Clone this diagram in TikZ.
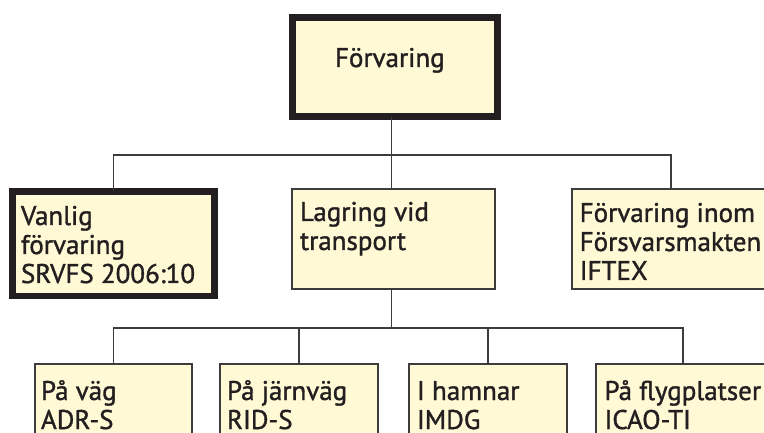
\documentclass[tikz,border=0pt]{standalone}
\usepackage{fontspec}
\newfontfamily\cellfont{PT Sans}[FakeBold=1.3]
\usetikzlibrary{calc}

\definecolor{cellfill}{HTML}{FFF9D6}
\definecolor{ink}{HTML}{231F20}
\definecolor{wire}{HTML}{3C3C3C}

% Fixed-size text area: #1 width, #2 height, #3 drop to first baseline, #4 lines
\newcommand\cellbox[4]{%
  \parbox[t][#2][t]{#1}{\raggedright\lineskiplimit=-100pt\lineskip=0pt
    \rule{0pt}{#3}#4}}

\tikzset{
  cell/.style={draw=wire, line width=1.3pt, fill=cellfill, text=ink,
    anchor=north west, inner ysep=0pt, outer sep=0pt,
    font=\cellfont\fontsize{27}{29}\selectfont},
  keycell/.style={cell, draw=ink, line width=6.5pt},
  wire/.style={draw=wire, line width=1.3pt},
}

\begin{document}
\begin{tikzpicture}[x=1pt, y=-1pt]
  \useasboundingbox (0,0) rectangle (764,433);
  \clip (0,0) rectangle (764,433);

  % top level
  \node[keycell, inner xsep=42.7pt] (top) at (292.3,17.3)
    {\cellbox{120pt}{99.4pt}{49.7pt}{Förvaring}};

  % second level
  \node[keycell, inner xsep=8.7pt] (left) at (12.3,191.5)
    {\cellbox{185pt}{104.5pt}{33.5pt}{Vanlig\\förvaring\\SRVFS 2006:10}};
  \node[cell, inner xsep=8pt] (mid) at (292,189)
    {\cellbox{187pt}{100pt}{32pt}{Lagring vid\\transport}};
  \node[cell, inner xsep=7.7pt] (right) at (572,189)
    {\cellbox{182.6pt}{100pt}{33pt}{Förvaring inom\\Försvarsmakten\\IFTEX}};

  % third level
  \node[cell, inner xsep=6pt] (b1) at (35,364)
    {\cellbox{145pt}{106pt}{36pt}{På väg\\ADR-S}};
  \node[cell, inner xsep=7pt] (b2) at (220,364)
    {\cellbox{144pt}{106pt}{36pt}{På järnväg\\RID-S}};
  \node[cell, inner xsep=8pt] (b3) at (409,364)
    {\cellbox{142pt}{106pt}{36pt}{I hamnar\\IMDG}};
  \node[cell, inner xsep=8.5pt] (b4) at (596,364)
    {\cellbox{157pt}{106pt}{36pt}{På flygplatser\\ICAO-TI}};

  % connector buses
  \coordinate (busA) at (391.5,155);
  \coordinate (busB) at (391.5,328);

  \draw[wire] (busA |- top.south) -- (busA |- mid.north);
  \draw[wire] (left.north) -- (left.north |- busA) -- (right.north |- busA)
    -- (right.north);

  \draw[wire] (busA |- mid.south) -- (busB);
  \draw[wire] (b1.north) -- (b1.north |- busB) -- (b4.north |- busB)
    -- (b4.north);
  \draw[wire] (b2.north) -- (b2.north |- busB);
  \draw[wire] (b3.north) -- (b3.north |- busB);
\end{tikzpicture}
\end{document}
